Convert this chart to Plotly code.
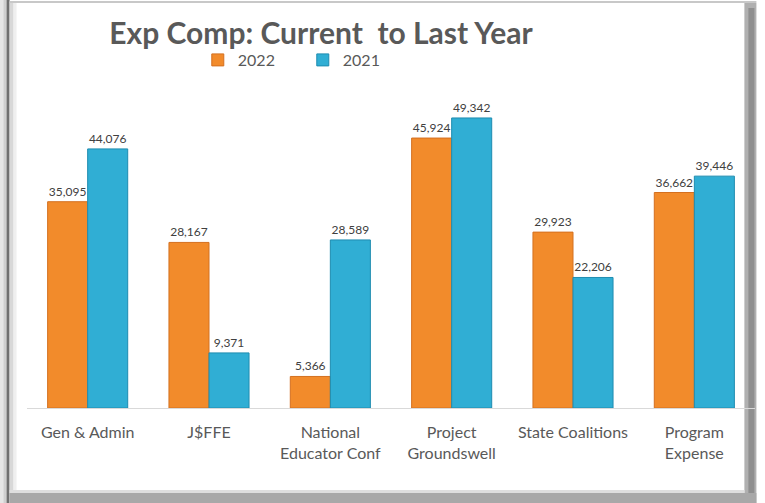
import plotly.graph_objects as go

categories = ["Gen & Admin", "J$FFE", "National<br>Educator Conf", "Project<br>Groundswell",
              "State Coalitions", "Program<br>Expense"]
values_2022 = [35095, 28167, 5366, 45924, 29923, 36662]
values_2021 = [44076, 9371, 28589, 49342, 22206, 39446]
series_names = ["2022", "2021"]

W, H = 765, 503
L, R, T, B = 27.4, 10.4, 80, 95
PW, PH = W - L - R, H - T - B

def px(x):
    return (x - L) / PW

def py(y):
    return (H - B - y) / PH

FONT = "Lato"

fig = go.Figure()
fig.add_trace(go.Bar(
    name=series_names[0], x=categories, y=values_2022,
    marker=dict(color="#F28B2B", line=dict(color="#D47020", width=1)),
    text=[f"{v:,}" for v in values_2022], textposition="outside",
    textfont=dict(family=FONT, size=12, color="#404040"), cliponaxis=False,
))
fig.add_trace(go.Bar(
    name=series_names[1], x=categories, y=values_2021,
    marker=dict(color="#30AED4", line=dict(color="#1E8CB0", width=1)),
    text=[f"{v:,}" for v in values_2021], textposition="outside",
    textfont=dict(family=FONT, size=12, color="#404040"), cliponaxis=False,
))

shapes = []
def rect(x0, y0, x1, y1, color):
    shapes.append(dict(type="rect", xref="paper", yref="paper", x0=px(x0), x1=px(x1),
                       y0=py(y0), y1=py(y1), fillcolor=color, line=dict(width=0), layer="below"))

# frame & shadow
rect(0, 0, 7, 503, "#e6e6e6")
rect(4, 0, 7, 503, "#cfcfcf")
rect(7, 0, 10, 503, "#707070")
rect(10, 2, 14, 503, "#d8d8d8")
rect(14, 2, 17, 503, "#efefef")
rect(10, 1, 756, 3, "#c8c8c8")
rect(744, 3, 756, 503, "#b0b0b0")
rect(748, 8, 754, 503, "#8f8f8f")
rect(10, 493, 756, 503, "#a8a8a8")
rect(10, 490, 744, 493, "#dedede")

fig.update_layout(
    width=W, height=H,
    margin=dict(l=L, r=R, t=T, b=B, pad=0),
    paper_bgcolor="white", plot_bgcolor="white",
    barmode="group", bargap=0.34, bargroupgap=0,
    title=dict(text="<b>Exp Comp: Current  to Last Year</b>", x=321 / W, xanchor="center",
               y=1 - 33 / H, yanchor="middle",
               font=dict(family=FONT, size=30, color="#595959")),
    legend=dict(orientation="h", x=px(198), xanchor="left", y=py(60), yanchor="middle",
                font=dict(family=FONT, size=16, color="#595959"),
                itemwidth=30, entrywidth=60, bgcolor="rgba(0,0,0,0)"),
    xaxis=dict(showline=True, linecolor="#D9D9D9", linewidth=1, ticks="",
               ticklabelstandoff=10,
               tickfont=dict(family=FONT, size=16, color="#595959"), showgrid=False),
    yaxis=dict(range=[0, 55800], visible=False, showgrid=False),
    shapes=shapes,
)

fig.write_html("out.html")
